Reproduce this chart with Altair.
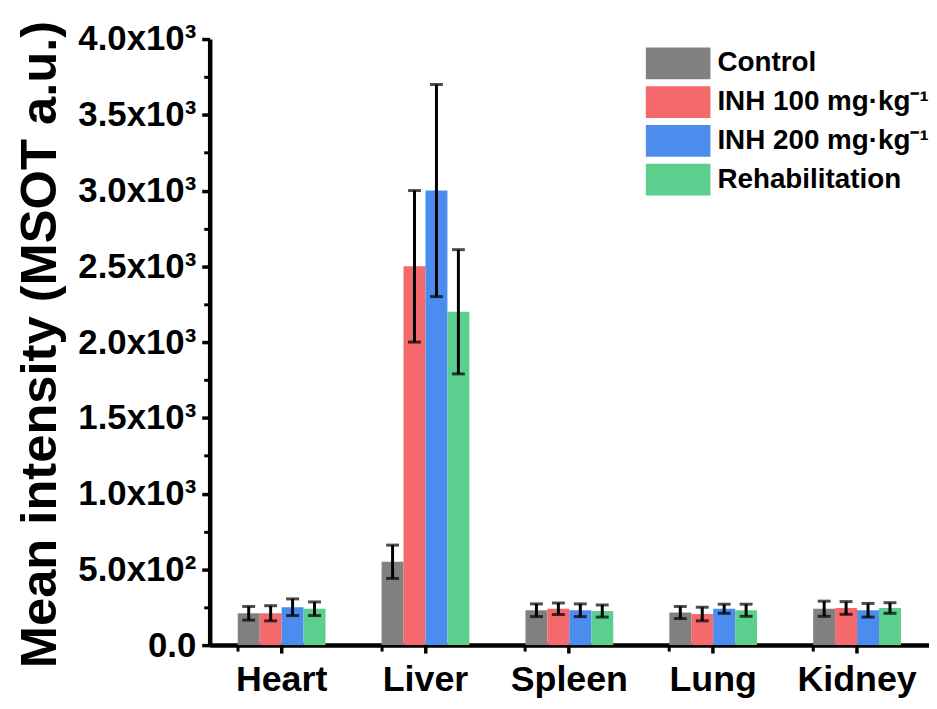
import altair as alt
import pandas as pd

organs = ["Heart", "Liver", "Spleen", "Lung", "Kidney"]
groups = ["Control", "INH 100 mg·kg⁻¹", "INH 200 mg·kg⁻¹", "Rehabilitation"]
colors = ["#808080", "#F3696C", "#4C8CEE", "#5CCE8E"]

control = [210, 550, 230, 215, 240]
inh100 = [210, 2500, 240, 205, 245]
inh200 = [250, 3000, 230, 240, 230]
rehab = [240, 2200, 225, 230, 245]

control_err = [45, 110, 42, 40, 50]
inh100_err = [50, 500, 38, 45, 42]
inh200_err = [55, 700, 42, 30, 45]
rehab_err = [45, 410, 40, 40, 35]

y_ticks = [0, 500, 1000, 1500, 2000, 2500, 3000, 3500, 4000]
y_minor = [250, 750, 1250, 1750, 2250, 2750, 3250, 3750]

rows = []
for g, means, errs in zip(groups, [control, inh100, inh200, rehab],
                          [control_err, inh100_err, inh200_err, rehab_err]):
    for o, m, e in zip(organs, means, errs):
        rows.append({"organ": o, "group": g, "mean": m, "low": m - e, "high": m + e})
df = pd.DataFrame(rows)

FONT = "Liberation Sans"

x_scale = alt.Scale(domain=organs, paddingInner=0.39, paddingOuter=0.195)
xo_scale = alt.Scale(domain=groups, paddingInner=0, paddingOuter=0)
y_scale = alt.Scale(domain=[0, 4000], nice=False)

x_main = alt.X("organ:N", scale=x_scale, title=None,
               axis=alt.Axis(orient="bottom", labelAngle=0, labelFontSize=36,
                             labelFont=FONT, labelFontWeight="bold",
                             labelColor="black", labelPadding=10, tickSize=8,
                             tickWidth=3.5, tickColor="black",
                             domainColor="black", domainWidth=4.5))
x_minor = alt.X("organ:N", scale=x_scale, title=None,
                axis=alt.Axis(orient="bottom", labels=False, domain=False,
                              bandPosition=0, tickSize=6, tickWidth=3,
                              tickColor="black"))
x_none = alt.X("organ:N", scale=x_scale, title=None, axis=None)
xo = alt.XOffset("group:N", scale=xo_scale)

label_expr = ("datum.value == 0 ? '0.0' : (datum.value < 1000 ? "
              "format(datum.value/100, '.1f') + 'x10²' : "
              "format(datum.value/1000, '.1f') + 'x10³')")

y_main = alt.Y("mean:Q", scale=y_scale,
               title="Mean intensity (MSOT a.u.)",
               axis=alt.Axis(orient="left", values=y_ticks,
                             labelExpr=label_expr, labelFontSize=35,
                             labelFont=FONT, labelFontWeight="bold",
                             labelColor="black", labelPadding=6, tickSize=8,
                             tickWidth=3.5, tickColor="black",
                             domainColor="black", domainWidth=4.5, grid=False,
                             titleFont=FONT, titleFontSize=51,
                             titleFontWeight="bold", titleColor="black",
                             titleX=-155, titleY=307,
                             titleBaseline="alphabetic"))

legend = alt.Legend(title=None, orient="none", legendX=455, legendY=8,
                    symbolType="M-2,-0.98H2V0.98H-2Z", symbolSize=1056,
                    symbolStrokeWidth=0, symbolOpacity=1,
                    labelFont=FONT, labelFontSize=28, labelFontWeight="bold",
                    labelColor="black", labelOffset=23, rowPadding=6,
                    padding=0, labelLimit=400)

bars = alt.Chart(df).mark_bar(opacity=1).encode(
    x=x_main, xOffset=xo, y=y_main,
    color=alt.Color("group:N", scale=alt.Scale(domain=groups, range=colors),
                    legend=legend),
)

rules = alt.Chart(df).mark_rule(color="black", strokeWidth=3).encode(
    x=x_minor, xOffset=xo,
    y=alt.Y("low:Q", scale=y_scale, title=None,
            axis=alt.Axis(orient="left", values=y_minor, labels=False,
                          domain=False, tickSize=6, tickWidth=3,
                          tickColor="black", grid=False, title=None)),
    y2="high:Q",
)

caps_top = alt.Chart(df).mark_tick(color="black", thickness=3, size=13).encode(
    x=x_none, xOffset=xo,
    y=alt.Y("high:Q", scale=y_scale, axis=None),
)
caps_bot = alt.Chart(df).mark_tick(color="black", thickness=3, size=13).encode(
    x=x_none, xOffset=xo,
    y=alt.Y("low:Q", scale=y_scale, axis=None),
)

chart = alt.layer(bars, rules, caps_top, caps_bot).resolve_axis(
    x="independent", y="independent"
).properties(
    width=724, height=610,
    autosize=alt.AutoSizeParams(type="none"),
    padding={"left": 203, "top": 29, "right": 0, "bottom": 54},
    background="white",
).configure_view(stroke=None)

chart.save("out.html", embed_options={"renderer": "svg", "actions": False})
